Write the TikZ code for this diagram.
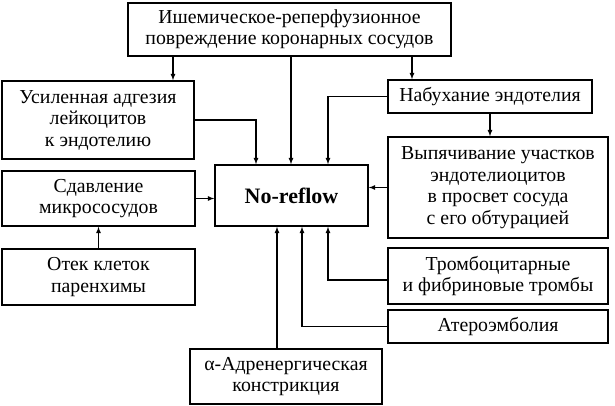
\documentclass[tikz,border=0pt]{standalone}
\usepackage{fontspec}
\setmainfont{Liberation Serif}

\begin{document}
\begin{tikzpicture}[x=1pt, y=-1pt,
  box/.style={draw, line width=1.4pt, align=center, inner sep=0pt,
    font=\fontsize{19.8}{21.5}\selectfont},
  fleche/.style={-latex, line width=1.2pt}]
 \useasboundingbox (0,0) rectangle (615,406);

 % les cases
 \node[box, minimum width=323, minimum height=53] (top) at (289.5,29.5)
   {Ишемическое-реперфузионное\\повреждение коронарных сосудов};
 \node[box, minimum width=192, minimum height=78] (adh) at (98,120)
   {Усиленная адгезия\\лейкоцитов\\к эндотелию};
 \node[box, minimum width=204, minimum height=33] (swell) at (490,96.5)
   {Набухание эндотелия};
 \node[box, minimum width=220, minimum height=101] (bulge) at (498,187.5)
   {Выпячивание участков\\эндотелиоцитов\\в просвет сосуда\\с его обтурацией};
 \node[box, minimum width=153, minimum height=61,
   font=\fontsize{22}{24}\selectfont\bfseries] (noreflow) at (291.5,195.5) {No-reflow};
 \node[box, minimum width=193, minimum height=55] (compr) at (98.5,198.5)
   {Сдавление\\микрососудов};
 \node[box, minimum width=193, minimum height=56] (edema) at (98.5,277)
   {Отек клеток\\паренхимы};
 \node[box, minimum width=220, minimum height=56] (thromb) at (498,276)
   {Тромбоцитарные\\и фибриновые тромбы};
 \node[box, minimum width=220, minimum height=33] (athero) at (498,326.5)
   {Атероэмболия};
 \node[box, minimum width=192, minimum height=55] (alpha) at (286,376.5)
   {α-Адренергическая\\констрикция};

 % les flèches du haut
 \draw[fleche] (173,0 |- top.south) -- (173,0 |- adh.north);
 \draw[fleche] (412,0 |- top.south) -- (412,0 |- swell.north);
 \draw[fleche] (291,0 |- top.south) -- (291,0 |- noreflow.north);
 \draw[fleche] (adh.east) -| (256,0 |- noreflow.north);
 \draw[fleche] (swell.west) -| (328,0 |- noreflow.north);
 \draw[fleche] (swell.south) -- (swell.south |- bulge.north);

 % les flèches latérales
 \draw[fleche] (bulge.west) -- (bulge.west -| noreflow.east);
 \draw[fleche] (compr.east) -- (compr.east -| noreflow.west);
 \draw[fleche] (edema.north) -- (compr.south);

 % les flèches du bas
 \draw[fleche] (thromb.west |- 0,280) -| (328,0 |- noreflow.south);
 \draw[fleche] (athero.west) -| (302,0 |- noreflow.south);
 \draw[fleche] (277,0 |- alpha.north) -- (277,0 |- noreflow.south);
\end{tikzpicture}
\end{document}
